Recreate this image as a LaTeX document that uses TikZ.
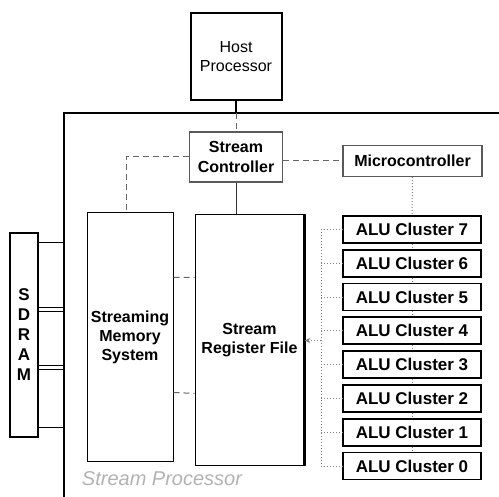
\documentclass[tikz,border=0pt]{standalone}
\usepackage{fontspec}
\setmainfont{Liberation Sans}
\usetikzlibrary{positioning, arrows.meta, calc}

\begin{document}
\begin{tikzpicture}[
    x=0.5pt, y=-0.5pt,
    font=\fontsize{8}{9.8}\selectfont,
    >={Stealth[length=3pt,width=2.5pt]},
    unit/.style   ={rectangle, draw=black, line width=0.6pt, align=center, inner sep=0pt},
    host/.style   ={unit, line width=1pt, minimum width=45.5pt, minimum height=43.5pt},
    ctrl/.style   ={unit, draw=black!65, font=\fontsize{8}{9.8}\selectfont\bfseries},
    block/.style  ={unit, line width=0.5pt, font=\fontsize{8}{9.6}\selectfont\bfseries},
    cluster/.style={unit, line width=0.9pt, minimum width=69pt, minimum height=13.5pt, font=\fontsize{8.5}{10}\selectfont\bfseries},
    chan/.style   ={unit, line width=0.5pt, minimum width=13pt},
    frame/.style  ={line width=1pt},
    link/.style   ={draw=black!60, line width=0.5pt, densely dashed},
    bus/.style    ={draw=black!50, line width=0.5pt, densely dotted},
]
\useasboundingbox (0,0) rectangle (499,497);

%==================== HOST AND PROCESSOR FRAME ====================

\node[host] (host) at (236,56.5) {Host\\Processor};

\coordinate (frameTL) at (64,113);
\coordinate (frameTR) at (499,113);
\coordinate (frameBL) at (64,497);
\draw[frame] (frameTR) -- (frameTL) -- (frameBL);

\node[font=\fontsize{10}{12}\selectfont\itshape, text=black!30] (title) at (162,479) {Stream Processor};

%==================== CONTROL ====================

\node[ctrl, minimum width=46.5pt, minimum height=25pt] (sc) at (236,157) {Stream\\Controller};
\node[ctrl, minimum width=69.5pt, minimum height=15.5pt] (micro) at (412.5,161) {Microcontroller};

%==================== MEMORY SIDE ====================

\node[block, minimum width=43pt, minimum height=124.5pt] (sms) at (130,337.5) {Streaming\\Memory\\System};
\node[block, minimum width=54.5pt, minimum height=125.5pt] (srf) at (249.5,340.5) {Stream\\Register File};
\draw[line width=1.2pt] (srf.north east) -- (srf.south east);

\node[unit, line width=0.7pt, minimum width=14pt, minimum height=102pt, font=\fontsize{8.5}{10}\selectfont\bfseries] (sdram) at (24,335) {S\\D\\R\\A\\M};

% channels between SDRAM and the processor edge
\node[chan, minimum height=32.5pt] (ch1) at (51,275.5) {};
\node[chan, minimum height=27pt]   (ch2) at (51,339)   {};
\node[chan, minimum height=29pt]   (ch3) at (51,398.5) {};

%==================== ALU CLUSTERS ====================

\node[cluster] (alu7) at (412,229.5) {ALU Cluster 7};
\node[cluster, below=2.5pt of alu7] (alu6) {ALU Cluster 6};
\node[cluster, below=2.5pt of alu6] (alu5) {ALU Cluster 5};
\node[cluster, below=2.5pt of alu5] (alu4) {ALU Cluster 4};
\node[cluster, below=2.5pt of alu4] (alu3) {ALU Cluster 3};
\node[cluster, below=2.5pt of alu3] (alu2) {ALU Cluster 2};
\node[cluster, below=2.5pt of alu2] (alu1) {ALU Cluster 1};
\node[cluster, below=2.5pt of alu1] (alu0) {ALU Cluster 0};

%==================== CONNECTIONS ====================

\draw[frame] (host.south) -- (host.south |- frameTL);
\draw[link]  (host.south |- frameTL) -- (sc.north);
\draw[link]  (sc.east |- micro.west) -- (micro.west);
\draw[link]  (sc.west) -| ($(sms.north)+(-4,0)$);
\draw[draw=black!80, line width=0.5pt] (sc.south) -- (sc.south |- srf.north);

\draw[link] ($(sms.north east)!0.26!(sms.south east)$) -- ($(srf.north west)!0.25!(srf.south west)$);
\draw[link] ($(sms.north east)!0.72!(sms.south east)$) -- ($(srf.north west)!0.71!(srf.south west)$);

\draw[bus] (micro.south) -- (alu7.north);
\draw[bus] (alu7.south) -- (alu6.north);
\draw[bus] (alu6.south) -- (alu5.north);
\draw[bus] (alu5.south) -- (alu4.north);
\draw[bus] (alu4.south) -- (alu3.north);
\draw[bus] (alu3.south) -- (alu2.north);
\draw[bus] (alu2.south) -- (alu1.north);
\draw[bus] (alu1.south) -- (alu0.north);

% bus from the register file to the clusters
\coordinate (busx) at (321,0);
\draw[bus] (alu7.west -| busx) -- (alu0.west -| busx);
\draw[bus, <-] (srf.east) -- (srf.east -| busx);
\draw[bus] (alu7.west -| busx) -- (alu7.west);
\draw[bus] (alu6.west -| busx) -- (alu6.west);
\draw[bus] (alu5.west -| busx) -- (alu5.west);
\draw[bus] (alu4.west -| busx) -- (alu4.west);
\draw[bus] (alu3.west -| busx) -- (alu3.west);
\draw[bus] (alu2.west -| busx) -- (alu2.west);
\draw[bus] (alu1.west -| busx) -- (alu1.west);
\draw[bus] (alu0.west -| busx) -- (alu0.west);

\end{tikzpicture}
\end{document}
